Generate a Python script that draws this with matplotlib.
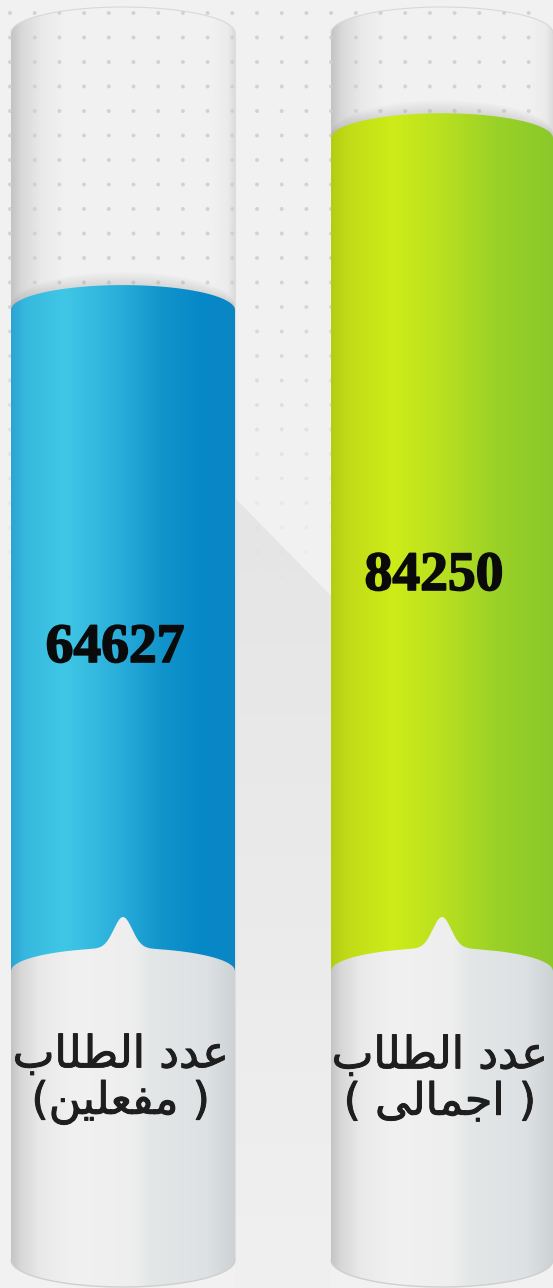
import numpy as np
import matplotlib
matplotlib.use("Agg")
import matplotlib.pyplot as plt
from matplotlib.path import Path
from matplotlib.patches import PathPatch
from matplotlib.colors import to_rgb
import matplotlib.patheffects as pe

# ---------------- data ----------------
categories = ["عدد الطلاب\n( مفعلين)", "عدد الطلاب\n( اجمالى )"]
values = [64627, 84250]
value_labels = ["64627", "84250"]

# ---------------- layout (pixels) ----------------
W, H = 553, 1288
BASE_PX = 876          # pixel row of value 0
S = 114.2              # value units per pixel
centers = [123, 442]
half_w = [112, 111]
CAP_H = 25             # bar top ellipse half height (px)
TUBE_TOP_SIDE, TUBE_TOP_H = 33, 26
TUBE_BOT_SIDE, TUBE_BOT_H = 1260, 27
LABEL_SIDE, LABEL_ARC = 971, 23
BUMP_H, BUMP_SIG = 31, 13
BAR_BOTTOM_PX = 985


def py(p):
    return (BASE_PX - p) * S


def grad(stops):
    pos = np.array([s[0] for s in stops])
    cols = np.array([to_rgb(s[1]) for s in stops])
    xs = np.linspace(0, 1, 400)
    img = np.stack([np.interp(xs, pos, cols[:, k]) for k in range(3)], axis=-1)
    return img[None, :, :]


# ---------------- arabic shaping ----------------
FORMS = {
    'ا': ('\uFE8D', '\uFE8E', None, None),
    'ب': ('\uFE8F', '\uFE90', '\uFE91', '\uFE92'),
    'ج': ('\uFE9D', '\uFE9E', '\uFE9F', '\uFEA0'),
    'د': ('\uFEA9', '\uFEAA', None, None),
    'ط': ('\uFEC1', '\uFEC2', '\uFEC3', '\uFEC4'),
    'ع': ('\uFEC9', '\uFECA', '\uFECB', '\uFECC'),
    'ف': ('\uFED1', '\uFED2', '\uFED3', '\uFED4'),
    'ل': ('\uFEDD', '\uFEDE', '\uFEDF', '\uFEE0'),
    'م': ('\uFEE1', '\uFEE2', '\uFEE3', '\uFEE4'),
    'ن': ('\uFEE5', '\uFEE6', '\uFEE7', '\uFEE8'),
    'ي': ('\uFEF1', '\uFEF2', '\uFEF3', '\uFEF4'),
    'ى': ('\uFEEF', '\uFEF0', None, None),
}


def shape_line(s):
    out = []
    for i, c in enumerate(s):
        if c not in FORMS:
            out.append(c)
            continue
        prev = s[i - 1] if i > 0 else ''
        nxt = s[i + 1] if i + 1 < len(s) else ''
        pj = prev in FORMS and FORMS[prev][2] is not None
        nj = nxt in FORMS
        iso, fin, ini, med = FORMS[c]
        if pj and nj and med:
            out.append(med)
        elif pj:
            out.append(fin)
        elif nj and ini:
            out.append(ini)
        else:
            out.append(iso)
    vis = ''.join(reversed(out))
    return vis.translate(str.maketrans('()', ')('))


def shape(text):
    return '\n'.join(shape_line(l) for l in text.split('\n'))


# ---------------- figure ----------------
fig = plt.figure(figsize=(W / 100, H / 100), dpi=100)
fig.patch.set_facecolor('#f1f1f1')
ax = fig.add_axes([0, 0, 1, 1])
ax.set_facecolor('#f1f1f1')
ax.axis('off')


def add_clip(path):
    p = PathPatch(path, transform=ax.transData, facecolor='none', edgecolor='none')
    ax.add_patch(p)
    return p


# diagonal shadow between cylinders
shadow = Path([(235, py(498)), (331, py(596)), (331, py(1288)), (235, py(1288)), (235, py(498))])
shp = add_clip(shadow)
vimg = np.linspace(0, 1, 300)[:, None]
col_top = np.array(to_rgb('#e5e5e5'))
col_bot = np.array(to_rgb('#f0f0f0'))
vg = (col_top[None, None, :] * (1 - vimg[..., None]) + col_bot[None, None, :] * vimg[..., None])
vg = np.repeat(vg, 2, axis=1)
im = ax.imshow(vg, extent=[235, 331, py(1288), py(498)], aspect='auto', origin='upper', zorder=1)
im.set_clip_path(shp)

# tubes
tube_stops = [(0, '#c3c3c3'), (0.05, '#d9d9d9'), (0.14, '#eaeaea'), (0.25, '#f2f2f2'),
              (0.9, '#f1f1f1'), (0.97, '#ebebeb'), (1.0, '#dcdcdc')]
for cx, hw in zip(centers, half_w):
    x0, x1 = cx - hw, cx + hw
    t = np.linspace(np.pi, 0, 80)
    top = [(cx + hw * np.cos(a), py(TUBE_TOP_SIDE - TUBE_TOP_H * np.sin(a))) for a in t]
    bot = [(cx + hw * np.cos(a), py(TUBE_BOT_SIDE + TUBE_BOT_H * np.sin(a))) for a in t[::-1]]
    pts = top + bot + [top[0]]
    cp = add_clip(Path(pts))
    im = ax.imshow(grad(tube_stops), extent=[x0, x1, py(1290), py(0)], aspect='auto', zorder=2)
    im.set_clip_path(cp)
    ax.plot([p[0] for p in top], [p[1] for p in top], color='#d8d8d8', lw=0.8, zorder=2.1)
    ax.plot([x1, x1], [py(TUBE_TOP_SIDE), py(TUBE_BOT_SIDE)], color='#dedede', lw=0.8, zorder=2.1)

# dot grid
gx = np.arange(10, W, 24.7)
gy = np.arange(13, 640, 24.5)
XX, YY = np.meshgrid(gx, gy)
fade = np.clip((600 - YY) / 330, 0, 1)
rgba = np.zeros((XX.size, 4))
rgba[:, :3] = to_rgb('#cfcfcf')
rgba[:, 3] = fade.ravel() * 0.9
ax.scatter(XX.ravel(), py(YY.ravel()), s=8, c=rgba, linewidths=0, zorder=3)

# bars
bar_stops = [
    [(0, '#2ba4d2'), (0.06, '#36b8de'), (0.24, '#40c7e6'), (0.45, '#2db1dc'),
     (0.68, '#1194cb'), (0.85, '#0688c8'), (1.0, '#0b86c4')],
    [(0, '#b4cc14'), (0.08, '#c2dc18'), (0.28, '#cdec18'), (0.5, '#b9e020'),
     (0.75, '#9ad127'), (1.0, '#8cc82b')],
]
base = py(BAR_BOTTOM_PX)
heights = [v - base for v in values]
widths = [2 * hw for hw in half_w]
bars = ax.bar(centers, heights, bottom=base, width=widths,
              color=['#2db1dc', '#b9e020'], linewidth=0, zorder=4)
for rect, stops, v in zip(bars, bar_stops, values):
    x0 = rect.get_x()
    x1 = x0 + rect.get_width()
    cx, hw = (x0 + x1) / 2, (x1 - x0) / 2
    t = np.linspace(np.pi, 0, 100)
    arc = [(cx + hw * np.cos(a), v + CAP_H * S * np.sin(a)) for a in t]
    for k in range(1, 9):
        sh = [(cx + hw * np.cos(a), v + (CAP_H + k) * S * np.sin(a) + k * S * 0.6) for a in t]
        ax.fill([p[0] for p in sh] + [x1, x0], [p[1] for p in sh] + [v, v],
                color='#9a9a9a', alpha=0.035, lw=0, zorder=3.5)
    pts = [(x0, base)] + arc + [(x1, base), (x0, base)]
    cp = add_clip(Path(pts))
    im = ax.imshow(grad(stops), extent=[x0, x1, base, v + CAP_H * S + 10], aspect='auto', zorder=5)
    im.set_clip_path(cp)

# label sections
label_stops = [(0, '#c4c4c4'), (0.04, '#d6d6d6'), (0.13, '#e9e9e9'), (0.28, '#f1f1f1'),
               (0.55, '#eeeeee'), (0.62, '#e4e7e8'), (0.88, '#dde1e3'), (1.0, '#cdd2d4')]
for cx, hw, lab in zip(centers, half_w, categories):
    x0, x1 = cx - hw, cx + hw
    xs = np.linspace(x0, x1, 300)
    u = (xs - cx) / hw
    ytop = LABEL_SIDE - LABEL_ARC * np.sqrt(np.clip(1 - u ** 2, 0, 1)) \
        - BUMP_H * np.exp(-((xs - cx) / BUMP_SIG) ** 2)
    ybot = TUBE_BOT_SIDE + TUBE_BOT_H * np.sqrt(np.clip(1 - u ** 2, 0, 1))
    pts = list(zip(xs, py(ytop))) + list(zip(xs[::-1], py(ybot[::-1]))) + [(xs[0], py(ytop[0]))]
    cp = add_clip(Path(pts))
    im = ax.imshow(grad(label_stops), extent=[x0, x1, py(1290), py(900)], aspect='auto', zorder=6)
    im.set_clip_path(cp)
    ax.plot(xs, py(ybot), color='#cfcfcf', lw=1.0, zorder=6.1)
    ax.text(cx - 2, py(1079), shape(lab), ha='center', va='center', fontsize=32,
            family=['DejaVu Sans'], color='#1e1e1e', linespacing=1.1, zorder=7,
            path_effects=[pe.withStroke(linewidth=0.7, foreground='#1e1e1e')])

# value labels
for cx, v, txt, ypx in zip(centers, values, value_labels, [648, 576]):
    ax.text(cx - 8, py(ypx), txt, ha='center', va='center', fontsize=40,
            family=['Liberation Serif'], fontweight='bold', color='#0a0a0a', zorder=8,
            path_effects=[pe.withStroke(linewidth=1.2, foreground='#0a0a0a')])

ax.set_xlim(0, W)
ax.set_ylim(py(H), py(0))
fig.savefig('out.png', dpi=100, facecolor=fig.get_facecolor())
